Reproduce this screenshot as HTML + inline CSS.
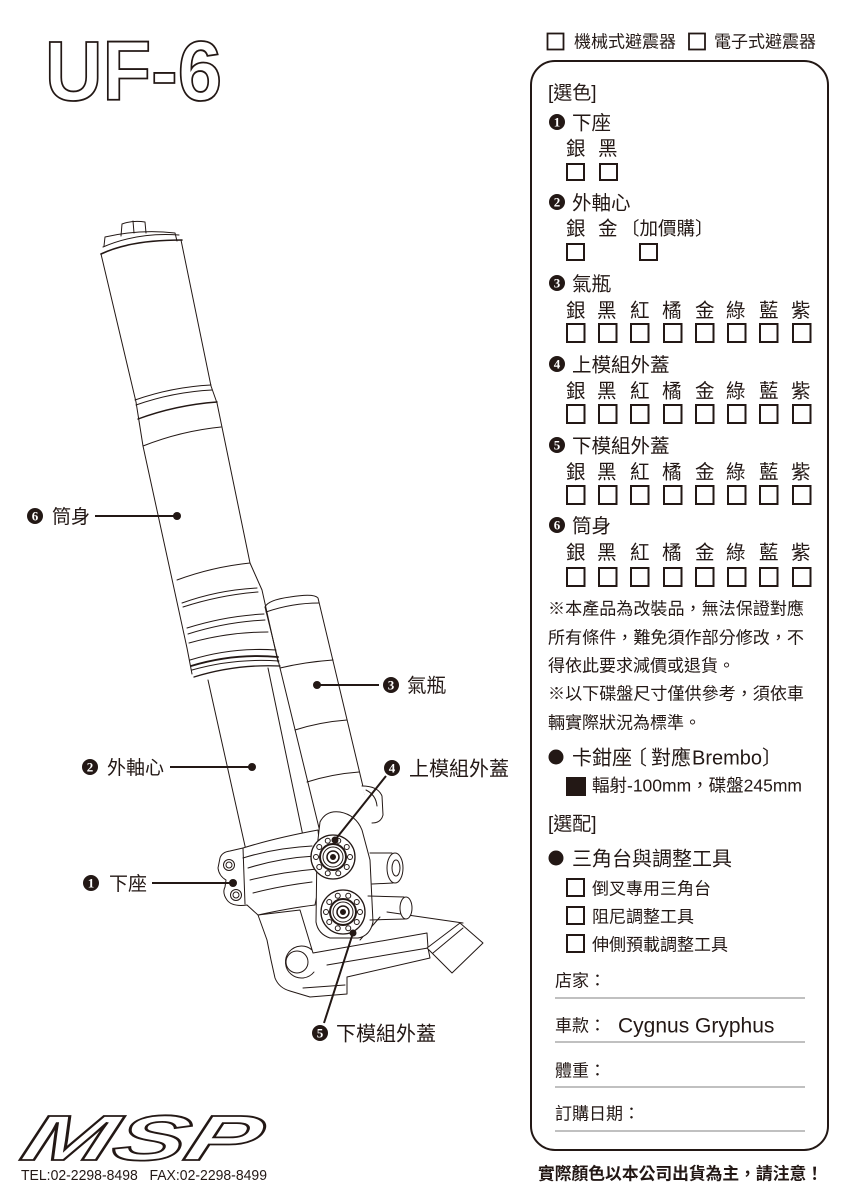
<!DOCTYPE html>
<html><head><meta charset="utf-8">
<style>
html,body{margin:0;padding:0;background:#fff;}
svg{display:block;}
text{font-family:"Liberation Sans","Noto Sans CJK TC",sans-serif;fill:#231815;}
.n{font-family:"Liberation Serif",serif;font-weight:bold;fill:#fff;font-size:13px;}
</style></head>
<body>
<svg width="849" height="1200" viewBox="0 0 849 1200" xmlns="http://www.w3.org/2000/svg">
<rect width="849" height="1200" fill="#fff"/>

<!-- Title -->
<text x="45" y="100" font-size="84" font-weight="bold" textLength="177" lengthAdjust="spacingAndGlyphs" style="fill:#fff;stroke:#231815;stroke-width:1.8">UF-6</text>

<!-- Fork drawing -->
<g fill="none" stroke="#231815" stroke-width="1" stroke-linejoin="round" stroke-linecap="round">
 <!-- cap -->
 <path d="M121,236 L122,224 Q133,220 145,222 L146,233"/>
 <path d="M133,221 L134,233"/>
 <path d="M104,246 L105,237 Q140,229 175,233 L177,241"/>
 <path d="M103,247 Q138,232 179,235"/>
 <path d="M101,254 Q130,240 182,240" stroke-width="1.6"/>
 <!-- upper tube -->
 <path d="M101,254 L136,402 L143,446 L187,648 L192,674"/>
 <path d="M181,240 L211,386 L217,403 L250,563 L262,590 L278,662"/>
 <path d="M135,400 Q172,387 211,385"/>
 <path d="M136,405 Q173,392 212,390"/>
 <path d="M138,419 Q176,405 217,402" stroke-width="1.4"/>
 <path d="M143,446 Q181,431 221,427"/>
 <path d="M177,580 Q212,567 250,563"/>
 <path d="M182,603 Q218,590 257,588"/>
 <path d="M183,607 Q220,595 258,592"/>
 <path d="M187,628 Q225,616 264,614"/>
 <path d="M188,634 Q226,622 265,620"/>
 <path d="M189,643 Q228,632 268,632"/>
 <path d="M190,660 Q232,647 276,650"/>
 <path d="M191,666 Q234,653 278,657" stroke-width="1.8"/>
 <path d="M192,670 Q234,658 279,661"/>
 <path d="M194,677 Q236,664 280,666" stroke-width="1.3"/>
 <!-- stanchion -->
 <path d="M208,680 L247,855"/>
 <path d="M268,668 L303,836"/>
 <!-- air bottle -->
 <path d="M265,607 Q268,600 290,597 Q314,593 318,598 L365,795"/>
 <path d="M265,607 L280,668 L320,832"/>
 <path d="M266,612 Q292,603 319,603"/>
 <path d="M280,668 Q305,662 333,660"/>
 <path d="M295,730 Q320,722 347,720"/>
 <path d="M307,782 Q332,774 359,772"/>
 <path d="M362,786 Q378,786 382,796 L383,815 Q381,823 372,823" fill="#fff"/>
 <path d="M366,790 Q376,795 377,806"/>

 <!-- lower body -->
 <path d="M258,915 L267,940 L271,960 L275,978 Q279,988 290,991 L300,994 L310,997 L347,994 L347,977 L430,958 L428,948 L427,933 L313,953 L300,910 Z" fill="#fff"/>
 <path d="M303,988 L345,985"/>
 <path d="M327,965 L428,948"/>
 <path d="M387,912 L463,923"/>
 <path d="M360,940 L380,917"/>
 <circle cx="297" cy="962" r="11" fill="#fff"/>
 <path d="M312,950 A16,16 0 1,0 314,972"/>
 <path d="M427,948 L460,923 L483,943 L452,973 Z" fill="#fff"/>
 <path d="M433,953 L463,928"/>

 <!-- clamp -->
 <path d="M220,858 Q222,852 230,851 L243,848 Q275,838 318,830 L322,870 L315,905 Q290,908 258,915 L247,905 Q232,907 227,900 Q222,893 225,887 L226,880 Q219,876 218,868 Z" fill="#fff"/>
 <circle cx="229" cy="865" r="5.5"/><circle cx="229" cy="865" r="3"/>
 <circle cx="236" cy="895" r="5.5"/><circle cx="236" cy="895" r="3"/>
 <path d="M243,848 L245,904"/>
 <path d="M243,858 Q275,848 312,846"/>
 <path d="M248,868 Q280,858 315,856"/>
 <path d="M250,880 Q282,872 317,869"/>
 <path d="M253,893 Q280,886 312,882"/>

 <!-- housing -->
 <path d="M317,848 L320,822 Q326,810 340,812 Q356,815 362,830 L370,860 L373,922 Q370,936 358,938 L330,938 Q318,934 316,922 Z" fill="#fff"/>
 <!-- bosses -->
 <path d="M370,853 L392,853 M372,884 L393,883"/>
 <ellipse cx="395" cy="868" rx="8" ry="15" fill="#fff"/>
 <ellipse cx="396" cy="868" rx="4" ry="8"/>
 <path d="M368,896 L404,897 M370,920 L405,919"/>
 <ellipse cx="406" cy="908" rx="6" ry="11" fill="#fff"/>

 <!-- discs -->
 <g transform="translate(333,857)">
  <circle r="22" fill="#fff" stroke-width="1.3"/>
  <circle r="13" stroke-width="2"/>
  <circle r="10"/>
  <circle r="6" stroke-width="1.5"/>
  <circle r="2.5" fill="#231815"/>
  <g fill="#fff">
  <circle cx="17" cy="0" r="2.5"/><circle cx="13.75" cy="10" r="2.5"/><circle cx="5.25" cy="16.2" r="2.5"/><circle cx="-5.25" cy="16.2" r="2.5"/><circle cx="-13.75" cy="10" r="2.5"/><circle cx="-17" cy="0" r="2.5"/><circle cx="-13.75" cy="-10" r="2.5"/><circle cx="-5.25" cy="-16.2" r="2.5"/><circle cx="5.25" cy="-16.2" r="2.5"/><circle cx="13.75" cy="-10" r="2.5"/>
  </g>
 </g>
 <g transform="translate(343,912)">
  <circle r="22" fill="#fff" stroke-width="1.3"/>
  <circle r="13" stroke-width="2"/>
  <circle r="10"/>
  <circle r="6" stroke-width="1.5"/>
  <circle r="2.5" fill="#231815"/>
  <g fill="#fff">
  <circle cx="17" cy="0" r="2.5"/><circle cx="13.75" cy="10" r="2.5"/><circle cx="5.25" cy="16.2" r="2.5"/><circle cx="-5.25" cy="16.2" r="2.5"/><circle cx="-13.75" cy="10" r="2.5"/><circle cx="-17" cy="0" r="2.5"/><circle cx="-13.75" cy="-10" r="2.5"/><circle cx="-5.25" cy="-16.2" r="2.5"/><circle cx="5.25" cy="-16.2" r="2.5"/><circle cx="13.75" cy="-10" r="2.5"/>
  </g>
 </g>
</g>

<!-- Callouts -->
<g stroke="#231815" stroke-width="2" fill="none">
 <path d="M95,516 L177,516"/>
 <path d="M170,767 L252,767"/>
 <path d="M152,883 L233,883"/>
 <path d="M317,685 L379,685"/>
 <path d="M386,776 L335,840"/>
 <path d="M324,1023 L353,933"/>
</g>
<g fill="#231815">
 <circle cx="177" cy="516" r="4"/>
 <circle cx="252" cy="767" r="4"/>
 <circle cx="233" cy="883" r="4"/>
 <circle cx="317" cy="685" r="4"/>
 <circle cx="335" cy="840" r="3.5"/>
 <circle cx="353" cy="933" r="3.5"/>
 <circle cx="35" cy="516" r="8"/>
 <circle cx="90" cy="767" r="8"/>
 <circle cx="91" cy="883" r="8"/>
 <circle cx="391" cy="685" r="8"/>
 <circle cx="392" cy="768" r="8"/>
 <circle cx="320" cy="1033" r="8"/>
</g>
<text class="n" x="35" y="520.5" text-anchor="middle">6</text>
<text class="n" x="90" y="771.5" text-anchor="middle">2</text>
<text class="n" x="91" y="887.5" text-anchor="middle">1</text>
<text class="n" x="391" y="689.5" text-anchor="middle">3</text>
<text class="n" x="392" y="772.5" text-anchor="middle">4</text>
<text class="n" x="320" y="1037.5" text-anchor="middle">5</text>
<text x="52" y="523" font-size="19">筒身</text>
<text x="107" y="774" font-size="19">外軸心</text>
<text x="109" y="890" font-size="19">下座</text>
<text x="407" y="692" font-size="19.5">氣瓶</text>
<text x="409" y="775.5" font-size="20">上模組外蓋</text>
<text x="336" y="1040.5" font-size="20">下模組外蓋</text>

<!-- Logo -->
<g transform="translate(18,1160) skewX(-18)">
 <text x="0" y="0" font-size="64" font-weight="bold" font-style="italic" textLength="236" lengthAdjust="spacingAndGlyphs" style="fill:#fff;stroke:#231815;stroke-width:1.8">MSP</text>
</g>
<text x="21" y="1180" font-size="15" textLength="246" lengthAdjust="spacingAndGlyphs" style="white-space:pre" xml:space="preserve">TEL:02-2298-8498   FAX:02-2298-8499</text>

<!-- Top checkboxes -->
<g fill="none" stroke="#231815" stroke-width="1.8">
 <rect x="547.5" y="33.5" width="16" height="16"/>
 <rect x="689" y="33.5" width="16" height="16"/>
</g>
<text x="574" y="47.5" font-size="17">機械式避震器</text>
<text x="714" y="47.5" font-size="17">電子式避震器</text>

<!-- Panel -->
<rect x="531" y="61" width="297" height="1089" rx="24" ry="24" fill="none" stroke="#231815" stroke-width="2"/>

<text x="548" y="99" font-size="19">[選色]</text>

<g fill="#231815">
 <circle cx="557" cy="122" r="8"/>
 <circle cx="557" cy="202" r="8"/>
 <circle cx="557" cy="283" r="8"/>
 <circle cx="557" cy="364" r="8"/>
 <circle cx="557" cy="445" r="8"/>
 <circle cx="557" cy="525" r="8"/>
 <circle cx="556" cy="757" r="7.5"/>
 <circle cx="556" cy="858" r="7.5"/>
 <rect x="566" y="777" width="20" height="19"/>
</g>
<text class="n" x="557" y="126.5" text-anchor="middle">1</text>
<text class="n" x="557" y="206.5" text-anchor="middle">2</text>
<text class="n" x="557" y="287.5" text-anchor="middle">3</text>
<text class="n" x="557" y="368.5" text-anchor="middle">4</text>
<text class="n" x="557" y="449.5" text-anchor="middle">5</text>
<text class="n" x="557" y="529.5" text-anchor="middle">6</text>

<text x="572" y="129.5" font-size="19.5">下座</text>
<text x="566" y="155" font-size="19.5">銀</text>
<text x="598" y="155" font-size="19.5">黑</text>

<text x="572" y="209.5" font-size="19.5">外軸心</text>
<text x="566" y="235" font-size="19.5">銀</text>
<text x="598" y="235" font-size="19.5">金</text>
<text x="621" y="235" font-size="18.5">〔加價購〕</text>

<text x="572" y="290.5" font-size="19.5">氣瓶</text>
<text x="572" y="371.5" font-size="19.5">上模組外蓋</text>
<text x="572" y="452.5" font-size="19.5">下模組外蓋</text>
<text x="572" y="532.5" font-size="19.5">筒身</text>

<g font-size="19.5">
 <text y="317"><tspan x="566">銀</tspan><tspan x="597">黑</tspan><tspan x="630">紅</tspan><tspan x="662">橘</tspan><tspan x="695">金</tspan><tspan x="726">綠</tspan><tspan x="759">藍</tspan><tspan x="791">紫</tspan></text>
 <text y="397.5"><tspan x="566">銀</tspan><tspan x="597">黑</tspan><tspan x="630">紅</tspan><tspan x="662">橘</tspan><tspan x="695">金</tspan><tspan x="726">綠</tspan><tspan x="759">藍</tspan><tspan x="791">紫</tspan></text>
 <text y="478.5"><tspan x="566">銀</tspan><tspan x="597">黑</tspan><tspan x="630">紅</tspan><tspan x="662">橘</tspan><tspan x="695">金</tspan><tspan x="726">綠</tspan><tspan x="759">藍</tspan><tspan x="791">紫</tspan></text>
 <text y="559"><tspan x="566">銀</tspan><tspan x="597">黑</tspan><tspan x="630">紅</tspan><tspan x="662">橘</tspan><tspan x="695">金</tspan><tspan x="726">綠</tspan><tspan x="759">藍</tspan><tspan x="791">紫</tspan></text>
</g>

<g fill="none" stroke="#231815" stroke-width="2">
 <rect x="567" y="164" width="17" height="16"/>
 <rect x="600" y="164" width="17" height="16"/>
 <rect x="567" y="244" width="17" height="16"/>
 <rect x="640" y="244" width="17" height="16"/>
 <rect x="567" y="324" width="17.5" height="18"/><rect x="599" y="324" width="17.5" height="18"/><rect x="631" y="324" width="17.5" height="18"/><rect x="664" y="324" width="17.5" height="18"/><rect x="696" y="324" width="17.5" height="18"/><rect x="728" y="324" width="17.5" height="18"/><rect x="760" y="324" width="17.5" height="18"/><rect x="793" y="324" width="17.5" height="18"/>
 <rect x="567" y="405" width="17.5" height="18"/><rect x="599" y="405" width="17.5" height="18"/><rect x="631" y="405" width="17.5" height="18"/><rect x="664" y="405" width="17.5" height="18"/><rect x="696" y="405" width="17.5" height="18"/><rect x="728" y="405" width="17.5" height="18"/><rect x="760" y="405" width="17.5" height="18"/><rect x="793" y="405" width="17.5" height="18"/>
 <rect x="567" y="486" width="17.5" height="18"/><rect x="599" y="486" width="17.5" height="18"/><rect x="631" y="486" width="17.5" height="18"/><rect x="664" y="486" width="17.5" height="18"/><rect x="696" y="486" width="17.5" height="18"/><rect x="728" y="486" width="17.5" height="18"/><rect x="760" y="486" width="17.5" height="18"/><rect x="793" y="486" width="17.5" height="18"/>
 <rect x="567" y="568" width="17.5" height="18"/><rect x="599" y="568" width="17.5" height="18"/><rect x="631" y="568" width="17.5" height="18"/><rect x="664" y="568" width="17.5" height="18"/><rect x="696" y="568" width="17.5" height="18"/><rect x="728" y="568" width="17.5" height="18"/><rect x="760" y="568" width="17.5" height="18"/><rect x="793" y="568" width="17.5" height="18"/>
 <rect x="567" y="879" width="17" height="17"/>
 <rect x="567" y="907" width="17" height="17"/>
 <rect x="567" y="935" width="17" height="17"/>
</g>

<g font-size="17">
 <text x="548" y="614.5" textLength="256" lengthAdjust="spacingAndGlyphs">※本產品為改裝品，無法保證對應</text>
 <text x="548" y="643.5" textLength="256" lengthAdjust="spacingAndGlyphs">所有條件，難免須作部分修改，不</text>
 <text x="548" y="671.5">得依此要求減價或退貨。</text>
 <text x="548" y="699.5" textLength="256" lengthAdjust="spacingAndGlyphs">※以下碟盤尺寸僅供參考，須依車</text>
 <text x="548" y="728.5">輛實際狀況為標準。</text>
</g>

<text x="572" y="764.5" font-size="20">卡鉗座</text>
<text x="627" y="764.5" font-size="20">〔</text>
<text x="651" y="764.5" font-size="20">對應</text>
<text x="692" y="764.5" font-size="20">Brembo</text>
<text x="762" y="764.5" font-size="20">〕</text>
<text x="592" y="791.5" font-size="17.5" textLength="210" lengthAdjust="spacingAndGlyphs">輻射-100mm，碟盤245mm</text>

<text x="548" y="830" font-size="19">[選配]</text>
<text x="572" y="865.5" font-size="20">三角台與調整工具</text>
<text x="592" y="894.5" font-size="17">倒叉專用三角台</text>
<text x="592" y="922.5" font-size="17">阻尼調整工具</text>
<text x="592" y="950.5" font-size="17">伸側預載調整工具</text>

<text x="555" y="986.5" font-size="17">店家：</text>
<text x="555" y="1031.5" font-size="17">車款：</text>
<text x="618" y="1032.5" font-size="21">Cygnus Gryphus</text>
<text x="555" y="1076.5" font-size="17">體重：</text>
<text x="555" y="1119.5" font-size="17">訂購日期：</text>
<g stroke="#9a9a9a" stroke-width="1.3">
 <line x1="555" y1="998" x2="805" y2="998"/>
 <line x1="555" y1="1042" x2="805" y2="1042"/>
 <line x1="555" y1="1087" x2="805" y2="1087"/>
 <line x1="555" y1="1131" x2="805" y2="1131"/>
</g>

<text x="538" y="1179.5" font-size="16.8" font-weight="bold" textLength="285" lengthAdjust="spacingAndGlyphs">實際顏色以本公司出貨為主，請注意！</text>
</svg>
</body></html>
